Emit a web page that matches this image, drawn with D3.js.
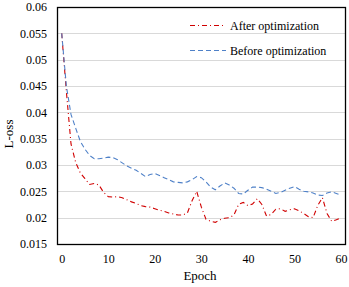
<!DOCTYPE html>
<html>
<head>
<meta charset="UTF-8">
<title>Loss vs epoch</title>
<script type="text/javascript" src="https://d3js.org/d3.v7.min.js"></script>
<style>
body { margin: 0; background: #fff; }
text { font-family: "Liberation Serif", "Times New Roman", serif; fill: #000; }
</style>
<script type="text/javascript">

// data

var epochs = d3.range(0, 61)

var afterOpt = [
	0.0550, 0.0440, 0.0340, 0.0305, 0.0285, 0.0274, 0.0263, 0.0265, 0.0262, 0.0248,
	0.0240, 0.0239, 0.0240, 0.0238, 0.0234, 0.0230, 0.0227, 0.0223, 0.0221, 0.0220,
	0.0217, 0.0214, 0.0212, 0.0209, 0.0207, 0.0205, 0.0205, 0.0209, 0.0232, 0.0250,
	0.0220, 0.0197, 0.0193, 0.0191, 0.0196, 0.0199, 0.0200, 0.0205, 0.0225, 0.0229,
	0.0223, 0.0226, 0.0236, 0.0225, 0.0203, 0.0206, 0.0216, 0.0217, 0.0212, 0.0215,
	0.0217, 0.0213, 0.0208, 0.0202, 0.0200, 0.0223, 0.0238, 0.0208, 0.0193, 0.0196,
	0.0200
]

var beforeOpt = [
	0.0550, 0.0450, 0.0396, 0.0370, 0.0345, 0.0330, 0.0318, 0.0312, 0.0312, 0.0313,
	0.0315, 0.0314, 0.0310, 0.0304, 0.0298, 0.0294, 0.0290, 0.0284, 0.0278, 0.0282,
	0.0284, 0.0280, 0.0276, 0.0272, 0.0268, 0.0267, 0.0266, 0.0268, 0.0272, 0.0278,
	0.0276, 0.0268, 0.0258, 0.0253, 0.0260, 0.0266, 0.0262, 0.0256, 0.0246, 0.0245,
	0.0252, 0.0258, 0.0258, 0.0257, 0.0254, 0.0250, 0.0246, 0.0248, 0.0252, 0.0256,
	0.0259, 0.0254, 0.0250, 0.0249, 0.0247, 0.0243, 0.0242, 0.0247, 0.0249, 0.0246,
	0.0243
]

var yTicks = [0.015, 0.02, 0.025, 0.03, 0.035, 0.04, 0.045, 0.05, 0.055, 0.06]
var xTicks = [0, 10, 20, 30, 40, 50, 60]

var seriesNames = ["After optimization", "Before optimization"]

// layout

var width  = 349
var height = 287
var plotLeft = 57, plotRight = 345, plotTop = 7, plotBottom = 244

</script>
</head>
<body>
<div id="chart"></div>

<script type="text/javascript">

var svg = d3.select("#chart")
	.append("svg")
	.attr("width", width)
	.attr("height", height)

var x = d3.scaleLinear().domain([0, 60]).range([61.7, 341])
var y = d3.scaleLinear().domain([0.015, 0.06]).range([plotBottom, plotTop])

// gridlines (skip the ones that sit on the frame)
svg.append("g").selectAll("line")
	.data(yTicks.slice(1, -1)).enter()
	.append("line")
	.attr("x1", plotLeft).attr("x2", plotRight)
	.attr("y1", function(d) { return Math.round(y(d)) + 0.5; })
	.attr("y2", function(d) { return Math.round(y(d)) + 0.5; })
	.attr("stroke", "#d9d9d9")
	.attr("stroke-width", 1)

// y axis labels
var yAxis = d3.axisLeft(y).tickValues(yTicks).tickSize(0).tickPadding(10)
	.tickFormat(function(d) { return +d.toFixed(3) + ""; })
var ya = svg.append("g")
	.attr("transform", "translate(" + plotLeft + ",0)")
	.call(yAxis)
ya.select(".domain").remove()
ya.selectAll("text")
	.attr("font-size", 12)
	.attr("font-family", "Liberation Serif, serif")

// x axis labels
var xAxis = d3.axisBottom(x).tickValues(xTicks).tickSize(0).tickPadding(10)
var xa = svg.append("g")
	.attr("transform", "translate(0," + plotBottom + ")")
	.call(xAxis)
xa.select(".domain").remove()
xa.selectAll("text")
	.attr("font-size", 12)
	.attr("font-family", "Liberation Serif, serif")

// frame
svg.append("rect")
	.attr("x", plotLeft + 0.5)
	.attr("y", plotTop + 0.5)
	.attr("width", plotRight - plotLeft)
	.attr("height", plotBottom - plotTop)
	.attr("fill", "none")
	.attr("stroke", "#000")
	.attr("stroke-width", 1.3)

// the two series
var line = d3.line()
	.x(function(d, i) { return x(epochs[i]); })
	.y(function(d) { return y(d); })

var styles = [
	{ color: "#d00000", dash: "5,3,1,3" },
	{ color: "#4f81c8", dash: "5,3" }
]

svg.append("path")
	.datum(afterOpt)
	.attr("d", line)
	.attr("fill", "none")
	.attr("stroke", styles[0].color)
	.attr("stroke-width", 1.1)
	.attr("stroke-dasharray", styles[0].dash)

svg.append("path")
	.datum(beforeOpt)
	.attr("d", line)
	.attr("fill", "none")
	.attr("stroke", styles[1].color)
	.attr("stroke-width", 1.1)
	.attr("stroke-dasharray", styles[1].dash)

// legend
var legend = svg.selectAll(".legend")
	.data(seriesNames).enter()
	.append("g")
	.attr("class", "legend")
	.attr("transform", function(d, i) { return "translate(190," + (25 + i * 25) + ")"; })

legend.append("line")
	.attr("x1", 0).attr("x2", 36)
	.attr("y1", 0.5).attr("y2", 0.5)
	.attr("stroke", function(d, i) { return styles[i].color; })
	.attr("stroke-width", 1.1)
	.attr("stroke-dasharray", function(d, i) { return styles[i].dash; })

legend.append("text")
	.attr("x", 40)
	.attr("y", 4.5)
	.attr("font-size", 12)
	.text(function(d) { return d; })

// axis titles
svg.append("text")
	.attr("x", 200)
	.attr("y", 280)
	.attr("text-anchor", "middle")
	.attr("font-size", 13)
	.text("Epoch")

svg.append("text")
	.attr("transform", "translate(13,134) rotate(-90)")
	.attr("text-anchor", "middle")
	.attr("font-size", 13)
	.text("L-oss")

</script>
</body>
</html>
